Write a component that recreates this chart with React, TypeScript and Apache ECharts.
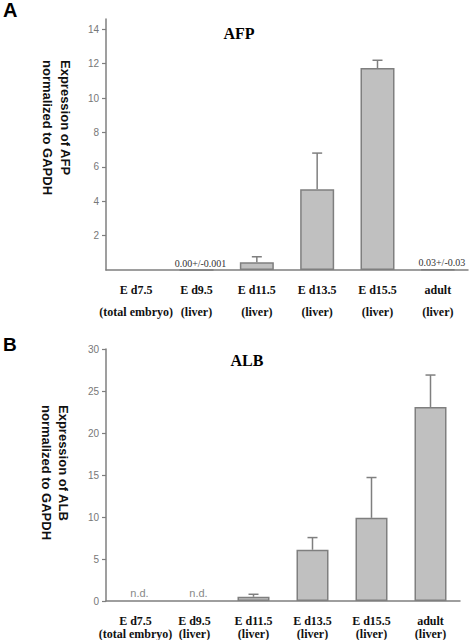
import React, { useEffect, useRef } from "react";
import * as echarts from "echarts";

// Developmental stages and tissue sampled at each stage
const stages = ["E d7.5", "E d9.5", "E d11.5", "E d13.5", "E d15.5", "adult"];
const tissues = ["(total embryo)", "(liver)", "(liver)", "(liver)", "(liver)", "(liver)"];

// AFP expression normalized to GAPDH (mean, upper SD)
const afpMean: (number | null)[] = [null, 0, 0.45, 4.7, 11.75, 0.03];
const afpErr: (number | null)[] = [null, 0, 0.32, 2.1, 0.45, 0];
const afpNotes = ["", "0.00+/-0.001", "", "", "", "0.03+/-0.03"];
const afpTicks = [2, 4, 6, 8, 10, 12, 14];

// ALB expression normalized to GAPDH (mean, upper SD); n.d. = not detected
const albMean: (number | null)[] = [null, null, 0.5, 6.1, 9.9, 23.1];
const albErr: (number | null)[] = [null, null, 0.3, 1.45, 4.8, 3.8];
const albNotes = ["n.d.", "n.d.", "", "", "", ""];
const albTicks = [0, 5, 10, 15, 20, 25, 30];

const categories = stages.map((s, i) => `${s}\n${tissues[i]}`);

const GREY = "#7f7f7f";
const BAR_FILL = "#c0c0c0";
const SERIF = "'Liberation Serif', 'DejaVu Serif', serif";
const SANS = "'Liberation Sans', Arial, sans-serif";

function errorSeries(
  mean: (number | null)[],
  err: (number | null)[],
  notes: string[],
  axisIndex: number,
  noteStyle: { fill: string; font: string; offset: number }
) {
  return {
    type: "custom",
    xAxisIndex: axisIndex,
    yAxisIndex: axisIndex,
    z: 5,
    silent: true,
    data: mean.map((m, i) => [i, m == null ? 0 : m, err[i] == null ? 0 : err[i]]),
    renderItem: (params: any, api: any) => {
      const i = params.dataIndex;
      const idx = api.value(0);
      const m = api.value(1);
      const e = api.value(2);
      const children: any[] = [];
      if (mean[i] != null && e > 0) {
        const base = api.coord([idx, m]);
        const top = api.coord([idx, m + e]);
        children.push({
          type: "line",
          shape: { x1: base[0], y1: base[1], x2: top[0], y2: top[1] },
          style: { stroke: GREY, lineWidth: 1.5 },
        });
        children.push({
          type: "line",
          shape: { x1: top[0] - 5, y1: top[1], x2: top[0] + 5, y2: top[1] },
          style: { stroke: GREY, lineWidth: 1.5 },
        });
      }
      if (notes[i]) {
        const p = api.coord([idx, m]);
        children.push({
          type: "text",
          x: p[0] + 4,
          y: p[1] - noteStyle.offset,
          style: {
            text: notes[i],
            fill: noteStyle.fill,
            font: noteStyle.font,
            textAlign: "center",
            textVerticalAlign: "bottom",
          },
        });
      }
      return { type: "group", children };
    },
  };
}

export default function App() {
  const ref = useRef<HTMLDivElement>(null);

  useEffect(() => {
    if (!ref.current) return;
    const chart = echarts.init(ref.current, null, { renderer: "svg" });

    const yAxisBase = {
      type: "value",
      axisLine: { show: true, lineStyle: { color: GREY, width: 1.5 } },
      splitLine: { show: false },
      axisTick: { show: true, length: 4, lineStyle: { color: GREY, width: 1.2 } },
    };

    const option: any = {
      animation: false,
      backgroundColor: "#ffffff",
      grid: [
        { left: 106, top: 19, width: 362, height: 251 },
        { left: 106, top: 349, width: 354, height: 254 },
      ],
      xAxis: [
        {
          type: "category",
          gridIndex: 0,
          data: categories,
          axisLine: { lineStyle: { color: GREY, width: 1.5 } },
          axisTick: { show: false },
          axisLabel: {
            interval: 0,
            margin: 9,
            color: "#111",
            fontFamily: SERIF,
            fontWeight: "bold",
            fontSize: 12,
            lineHeight: 22,
          },
        },
        {
          type: "category",
          gridIndex: 1,
          data: categories,
          axisLine: { lineStyle: { color: GREY, width: 1.5 } },
          axisTick: { show: false },
          axisLabel: {
            interval: 0,
            margin: 13,
            color: "#111",
            fontFamily: SERIF,
            fontWeight: "bold",
            fontSize: 12,
            lineHeight: 13,
          },
        },
      ],
      yAxis: [
        {
          ...yAxisBase,
          gridIndex: 0,
          min: 0,
          max: 14.6,
          axisTick: { ...yAxisBase.axisTick, customValues: afpTicks },
          axisLabel: {
            customValues: afpTicks,
            margin: 7,
            color: "#777",
            fontFamily: SANS,
            fontSize: 10,
          },
        },
        {
          ...yAxisBase,
          gridIndex: 1,
          min: 0,
          max: 30,
          interval: 5,
          axisTick: { ...yAxisBase.axisTick, customValues: albTicks },
          axisLabel: {
            customValues: albTicks,
            margin: 7,
            color: "#777",
            fontFamily: SANS,
            fontSize: 10,
          },
        },
      ],
      series: [
        {
          type: "bar",
          xAxisIndex: 0,
          yAxisIndex: 0,
          data: afpMean,
          barWidth: 34,
          itemStyle: { color: BAR_FILL, borderColor: GREY, borderWidth: 1.5 },
        },
        errorSeries(afpMean, afpErr, afpNotes, 0, {
          fill: "#333",
          font: `10px ${SERIF}`,
          offset: 2,
        }),
        {
          type: "bar",
          xAxisIndex: 1,
          yAxisIndex: 1,
          data: albMean,
          barWidth: 32,
          itemStyle: { color: BAR_FILL, borderColor: GREY, borderWidth: 1.5 },
        },
        errorSeries(albMean, albErr, albNotes, 1, {
          fill: "#888",
          font: `11px ${SANS}`,
          offset: 3,
        }),
      ],
      graphic: [
        {
          type: "text",
          left: 3,
          top: 0,
          style: { text: "A", font: `bold 20px ${SANS}`, fill: "#000" },
        },
        {
          type: "text",
          left: 3,
          top: 335,
          style: { text: "B", font: `bold 19px ${SANS}`, fill: "#000" },
        },
        {
          type: "text",
          x: 239,
          y: 33,
          style: {
            text: "AFP",
            font: `bold 16px ${SERIF}`,
            fill: "#000",
            textAlign: "center",
            textVerticalAlign: "middle",
          },
        },
        {
          type: "text",
          x: 247,
          y: 360,
          style: {
            text: "ALB",
            font: `bold 16px ${SERIF}`,
            fill: "#000",
            textAlign: "center",
            textVerticalAlign: "middle",
          },
        },
        {
          type: "text",
          x: 56,
          y: 60,
          rotation: -Math.PI / 2,
          style: {
            text: "Expression of AFP\nnormalized to GAPDH",
            font: `bold 13px ${SANS}`,
            lineHeight: 18,
            fill: "#111",
            textAlign: "left",
            textVerticalAlign: "middle",
          },
        },
        {
          type: "text",
          x: 55,
          y: 405,
          rotation: -Math.PI / 2,
          style: {
            text: "Expression of ALB\nnormalized to GAPDH",
            font: `bold 13px ${SANS}`,
            lineHeight: 17,
            fill: "#111",
            textAlign: "left",
            textVerticalAlign: "middle",
          },
        },
      ],
    };

    chart.setOption(option);
    return () => chart.dispose();
  }, []);

  return (
    <div
      ref={ref}
      style={{ position: "fixed", left: 0, top: 0, width: 472, height: 640, background: "#fff" }}
    />
  );
}
